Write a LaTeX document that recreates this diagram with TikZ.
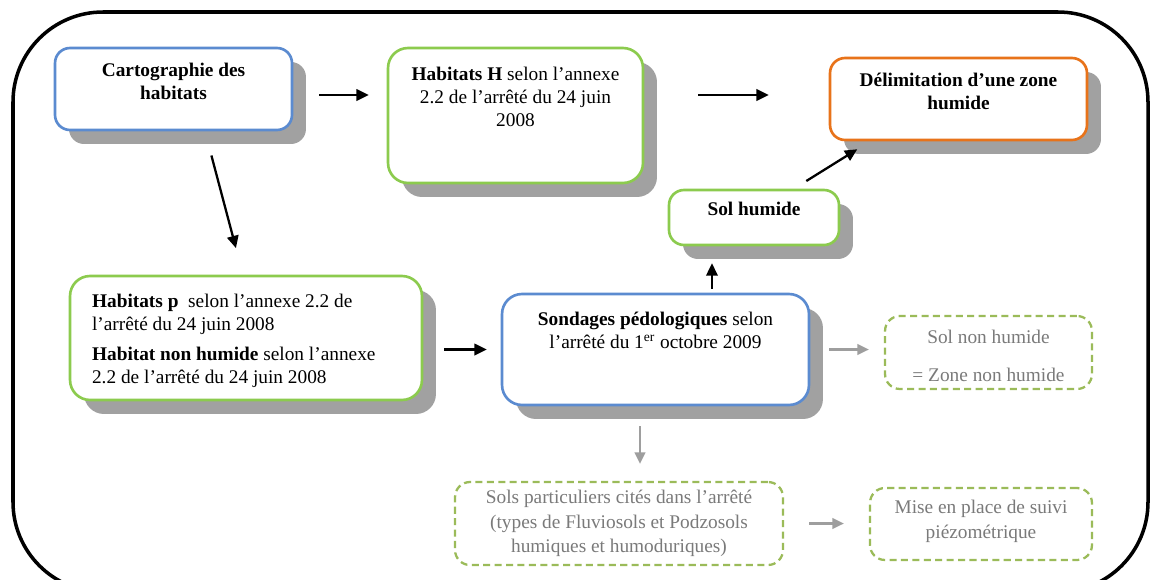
\documentclass[tikz,border=0pt]{standalone}
\usepackage{fontspec}
\setmainfont{Liberation Serif}
\usetikzlibrary{arrows.meta, calc, positioning, shadows}

\definecolor{boxblue}{HTML}{5B8BD0}
\definecolor{boxgreen}{HTML}{8CCB4E}
\definecolor{boxorange}{HTML}{E8731A}
\definecolor{dashgreen}{HTML}{9BBB59}

\tikzset{
  box/.style={draw=#1, line width=1.5pt, fill=white, rounded corners=0.3cm,
    drop shadow={shadow xshift=0.28cm, shadow yshift=-0.28cm, fill=black!37, opacity=1}},
  dbox/.style={draw=dashgreen, line width=1.3pt, dash pattern=on 4pt off 2.5pt, fill=white, rounded corners=0.3cm},
  txt/.style={font=\fontsize{11}{13}\selectfont, align=center, inner sep=0pt, anchor=north},
  gtxt/.style={txt, text=black!52},
  arr/.style={-{Triangle[length=7pt,width=6.5pt]}, line width=1.3pt},
  garr/.style={-{Triangle[length=6.5pt,width=6pt]}, line width=1.2pt, black!38},
}

\begin{document}
\begin{tikzpicture}[x=0.02cm, y=-0.02cm]
\useasboundingbox (0,0) rectangle (1150,579);
% Frame
\draw[line width=2pt, rounded corners=1.8cm, fill=white] (13,12) rectangle (1148,592);

% Boxes
\node[box=boxblue, minimum width=4.74cm, minimum height=1.64cm] (carto) at (173.5,89) {};
\node[box=boxgreen, minimum width=5.10cm, minimum height=2.70cm, rounded corners=0.4cm] (habH) at (515.5,115.5) {};
\node[box=boxorange, minimum width=5.14cm, minimum height=1.64cm] (delim) at (958.5,99) {};
\node[box=boxgreen, minimum width=3.40cm, minimum height=1.10cm] (solH) at (754,217.5) {};
\node[box=boxgreen, minimum width=7.04cm, minimum height=2.48cm, rounded corners=0.4cm] (habP) at (246,338) {};
\node[box=boxblue, minimum width=6.14cm, minimum height=2.22cm, rounded corners=0.4cm] (sond) at (655.5,349.5) {};
\node[dbox, minimum width=4.14cm, minimum height=1.46cm] (solNH) at (988.5,352.5) {};
\node[dbox, minimum width=6.56cm, minimum height=1.66cm] (sols) at (619,523.5) {};
\node[dbox, minimum width=4.44cm, minimum height=1.44cm] (mise) at (981,524) {};

% Texts
\node[txt, font=\fontsize{11}{13}\selectfont\bfseries] (cartoT) at ([yshift=-0.32cm]carto.north) {Cartographie des\\habitats};
\node[txt] (habHT) at ([yshift=-0.4cm]habH.north) {\textbf{Habitats H} selon l’annexe\\2.2 de l’arrêté du 24 juin\\2008};
\node[txt, font=\fontsize{11}{13}\selectfont\bfseries] (delimT) at ([yshift=-0.32cm]delim.north) {Délimitation d’une zone\\humide};
\node[txt, font=\fontsize{11}{13}\selectfont\bfseries] (solHT) at ([yshift=-0.26cm]solH.north) {Sol humide};
\node[txt, anchor=north west, align=left] (habPT) at ([xshift=0.46cm, yshift=-0.38cm]habP.north west)
  {\textbf{Habitats p}\ \ selon l’annexe 2.2 de\\l’arrêté du 24 juin 2008\\[4pt]\textbf{Habitat non humide} selon l’annexe\\2.2 de l’arrêté du 24 juin 2008};
\node[txt] (sondT) at ([yshift=-0.38cm]sond.north) {\textbf{Sondages pédologiques} selon\\l’arrêté du 1\textsuperscript{er} octobre 2009};
\node[gtxt] (solNHT) at ([yshift=-0.3cm]solNH.north) {Sol non humide\\[8.5pt]= Zone non humide};
\node[gtxt, font=\fontsize{11}{14}\selectfont] (solsT) at ([yshift=-0.18cm]sols.north) {Sols particuliers cités dans l’arrêté\\(types de Fluviosols et Podzosols\\humiques et humoduriques)};
\node[gtxt, font=\fontsize{11}{14}\selectfont] (miseT) at ([yshift=-0.26cm]mise.north) {Mise en place de suivi\\piézométrique};

% Arrows
\draw[arr, shorten <=0.52cm, shorten >=0.36cm] ([yshift=-0.12cm]carto.east) -- ([yshift=-0.12cm]carto.east -| habH.west);
\draw[arr, shorten <=1.08cm, shorten >=1.2cm] ([yshift=0.08cm]delim.west -| habH.east) -- ([yshift=0.08cm]delim.west);
\draw[arr, shorten <=0.5cm, shorten >=0.55cm] ([xshift=0.63cm]carto.south) -- ([xshift=-0.06cm]habP.north);
\draw[arr, shorten <=0.42cm, shorten >=0.28cm] (sond.west -| habP.east) -- (sond.west);
\draw[arr, shorten <=0.08cm, shorten >=0.34cm] ([xshift=1.13cm]sond.north) -- ([xshift=1.13cm]sond.north |- solH.south);
\draw[arr, shorten <=0.29cm, shorten >=0.3cm] ([xshift=0.8cm]solH.north) -- ([xshift=-1.77cm]delim.south);
\draw[garr, shorten <=0.38cm, shorten >=0.3cm] (sond.east) -- (sond.east -| solNH.west);
\draw[garr, shorten <=0.4cm, shorten >=0.34cm] ([xshift=-0.31cm]sond.south) -- ([xshift=-0.31cm]sond.south |- sols.north);
\draw[garr, shorten <=0.5cm, shorten >=0.5cm] (sols.east) -- (sols.east -| mise.west);
\end{tikzpicture}
\end{document}
